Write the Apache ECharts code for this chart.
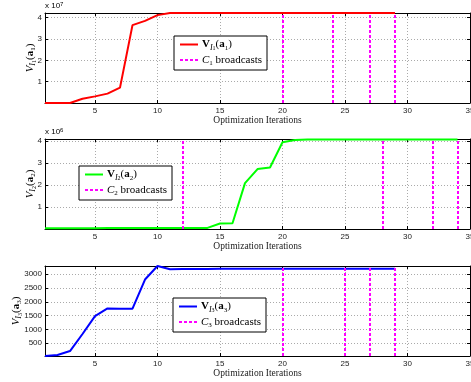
<!DOCTYPE html>
<html>
<head>
<meta charset="utf-8">
<script src="https://cdn.jsdelivr.net/npm/echarts@6/dist/echarts.min.js"></script>
<style>html,body{margin:0;padding:0;background:#fff;}#c{width:471px;height:382px;}</style>
</head>
<body>
<div id="c"></div>
<script>
// ---------- data ----------
const iters1 = [1,2,3,4,5,6,7,8,9,10,11,12,13,14,15,16,17,18,19,20,21,22,23,24,25,26,27,28,29];
const v1 = [0,0,0,0.2e7,0.31e7,0.44e7,0.72e7,3.65e7,3.85e7,4.12e7,4.22e7,4.22e7,4.22e7,4.22e7,4.22e7,4.22e7,4.22e7,4.22e7,4.22e7,4.22e7,4.22e7,4.22e7,4.22e7,4.22e7,4.22e7,4.22e7,4.22e7,4.22e7,4.22e7];
const c1Broadcasts = [20,24,27,29];

const iters2 = [1,2,3,4,5,6,7,8,9,10,11,12,13,14,15,16,17,18,19,20,21,22,23,24,25,26,27,28,29,30,31,32,33,34];
const v2 = [0.03e6,0.03e6,0.03e6,0.03e6,0.03e6,0.04e6,0.04e6,0.04e6,0.04e6,0.04e6,0.04e6,0.04e6,0.04e6,0.05e6,0.25e6,0.26e6,2.09e6,2.73e6,2.8e6,3.95e6,4.05e6,4.08e6,4.08e6,4.08e6,4.08e6,4.08e6,4.08e6,4.08e6,4.08e6,4.08e6,4.08e6,4.08e6,4.08e6,4.08e6];
const c2Broadcasts = [12,28,32,34];

const iters3 = [1,2,3,4,5,6,7,8,9,10,11,12,13,14,15,16,17,18,19,20,21,22,23,24,25,26,27,28,29];
const v3 = [30,65,210,830,1480,1757,1750,1750,2808,3300,3180,3190,3190,3190,3200,3200,3200,3200,3200,3200,3200,3200,3200,3200,3200,3200,3200,3200,3200];
const c3Broadcasts = [20,25,27,29];

const xTicks = [5,10,15,20,25,30,35];
const yTicks1 = [1e7,2e7,3e7,4e7];
const yTicks2 = [1e6,2e6,3e6,4e6];
const yTicks3 = [500,1000,1500,2000,2500,3000];
const xTitle = 'Optimization Iterations';

// ---------- styling helpers ----------
const SERIF = 'Liberation Serif';
const SANS = 'Liberation Sans';
const rich = {
  n:  {fontFamily: SERIF, fontSize: 11, lineHeight: 14, color: '#000'},
  i:  {fontFamily: SERIF, fontSize: 11, lineHeight: 14, fontStyle: 'italic', color: '#000'},
  b:  {fontFamily: SERIF, fontSize: 11, lineHeight: 14, fontWeight: 'bold', color: '#000'},
  si: {fontFamily: SERIF, fontSize: 8, lineHeight: 9, fontStyle: 'italic', verticalAlign: 'bottom', color: '#000'},
  ss: {fontFamily: SERIF, fontSize: 6, lineHeight: 6, verticalAlign: 'bottom', color: '#000'},
  s:  {fontFamily: SERIF, fontSize: 7, lineHeight: 7, verticalAlign: 'bottom', color: '#000'}
};
function vLabel(k, boldV) {
  return '{' + (boldV ? 'b' : 'i') + '|V}{si|I}{ss|' + k + '}{n|(}{b|a}{s|' + k + '}{n|)}';
}
function cLabel(k) {
  return '{i|C}{s|' + k + '}{n| broadcasts}';
}

const grids = [
  {left: 45, top: 13, width: 425, height: 90, outerBoundsMode: 'none', containLabel: false},
  {left: 45, top: 139, width: 425, height: 90, outerBoundsMode: 'none', containLabel: false},
  {left: 45, top: 266, width: 425, height: 90, outerBoundsMode: 'none', containLabel: false}
];
const yRanges = [[0, 4.22e7], [0, 4.1e6], [30, 3300]];
const yTickSets = [yTicks1, yTicks2, yTicks3];
const yFmt = [v => String(v / 1e7), v => String(v / 1e6), v => String(v)];
const yNameGap = [8, 8, 22];

const xAxes = [], yAxes = [];
grids.forEach((g, gi) => {
  xAxes.push({
    type: 'value', gridIndex: gi, min: 1, max: 35, position: 'bottom',
    axisLine: {show: true, onZero: false, lineStyle: {color: '#000', width: 1}},
    axisTick: {show: true, inside: true, length: 3, customValues: xTicks, lineStyle: {color: '#000'}},
    axisLabel: {show: true, customValues: xTicks, fontFamily: SANS, fontSize: 8, color: '#222', margin: 4, showMaxLabel: true, hideOverlap: false},
    splitLine: {show: true, lineStyle: {color: '#aaa', type: [1, 2], width: 1}},
    name: xTitle, nameLocation: 'middle', nameGap: 12, nameMoveOverlap: false,
    nameTextStyle: {fontFamily: SERIF, fontSize: 9.5, color: '#222'}
  });
  xAxes.push({
    type: 'value', gridIndex: gi, min: 1, max: 35, position: 'top',
    axisLine: {show: true, onZero: false, lineStyle: {color: '#000', width: 1}},
    axisTick: {show: true, inside: true, length: 3, customValues: xTicks, lineStyle: {color: '#000'}},
    axisLabel: {show: false}, splitLine: {show: false}
  });
  yAxes.push({
    type: 'value', gridIndex: gi, min: yRanges[gi][0], max: yRanges[gi][1], position: 'left',
    axisLine: {show: true, onZero: false, lineStyle: {color: '#000', width: 1}},
    axisTick: {show: true, inside: true, length: 3, customValues: yTickSets[gi], lineStyle: {color: '#000'}},
    axisLabel: {show: true, customValues: yTickSets[gi], formatter: yFmt[gi], fontFamily: SANS, fontSize: 8, color: '#222', margin: 3},
    splitLine: {show: true, lineStyle: {color: '#aaa', type: [1, 2], width: 1}},
    name: vLabel(gi + 1, false), nameLocation: 'middle', nameRotate: 90, nameGap: yNameGap[gi],
    nameMoveOverlap: false,
    nameTextStyle: {rich: rich}
  });
  yAxes.push({
    type: 'value', gridIndex: gi, min: yRanges[gi][0], max: yRanges[gi][1], position: 'right',
    axisLine: {show: true, onZero: false, lineStyle: {color: '#000', width: 1}},
    axisTick: {show: true, inside: true, length: 3, customValues: yTickSets[gi], lineStyle: {color: '#000'}},
    axisLabel: {show: false}, splitLine: {show: false}
  });
});

const lineColors = ['#ff0000', '#00ff00', '#0000ff'];
const iterSets = [iters1, iters2, iters3];
const valSets = [v1, v2, v3];
const bSets = [c1Broadcasts, c2Broadcasts, c3Broadcasts];

const series = [];
grids.forEach((g, gi) => {
  series.push({
    name: 'V' + (gi + 1), type: 'line', xAxisIndex: gi * 2, yAxisIndex: gi * 2,
    data: iterSets[gi].map((x, i) => [x, valSets[gi][i]]),
    showSymbol: false, symbol: 'none', smooth: false,
    lineStyle: {color: lineColors[gi], width: 2}, itemStyle: {color: lineColors[gi]},
    z: 3, animation: false
  });
  series.push({
    name: 'C' + (gi + 1), type: 'line', xAxisIndex: gi * 2, yAxisIndex: gi * 2,
    data: [], symbol: 'none', showSymbol: false,
    lineStyle: {color: '#ff00ff', width: 2, type: [3, 2]}, itemStyle: {color: '#ff00ff'},
    markLine: {
      silent: true, symbol: ['none', 'none'], label: {show: false},
      lineStyle: {color: '#ff00ff', width: 2, type: [3, 2]},
      data: bSets[gi].map(x => ({xAxis: x})),
      animation: false
    },
    z: 2, animation: false
  });
});

const legendPos = [
  {left: 174, top: 36},
  {left: 79, top: 166},
  {left: 173, top: 298}
];
const legends = legendPos.map((p, gi) => ({
  left: p.left, top: p.top, orient: 'vertical',
  data: ['V' + (gi + 1), 'C' + (gi + 1)],
  backgroundColor: '#fff', borderColor: '#000', borderWidth: 1, borderRadius: 0,
  padding: [3, 5, 3, 5], itemGap: 3, itemWidth: 18, itemHeight: 12,
  selectedMode: false,
  itemStyle: {color: 'rgba(0,0,0,0)', borderWidth: 0, opacity: 0},
  formatter: name => name[0] === 'V' ? vLabel(gi + 1, true) : cLabel(gi + 1),
  textStyle: {rich: rich, padding: [0, 0, 0, -1]}
}));

const expRich = {
  n: {fontFamily: SANS, fontSize: 8, color: '#222', lineHeight: 10},
  p: {fontFamily: SANS, fontSize: 6, color: '#222', lineHeight: 6, verticalAlign: 'top'}
};

const chart = echarts.init(document.getElementById('c'), null, {renderer: 'canvas'});
chart.setOption({
  backgroundColor: '#fff',
  animation: false,
  grid: grids,
  xAxis: xAxes,
  yAxis: yAxes,
  legend: legends,
  series: series,
  graphic: [
    {type: 'text', left: 45, top: 1, style: {text: '{n|x 10}{p|7}', rich: expRich}},
    {type: 'text', left: 45, top: 127, style: {text: '{n|x 10}{p|6}', rich: expRich}}
  ]
});
</script>
</body>
</html>
